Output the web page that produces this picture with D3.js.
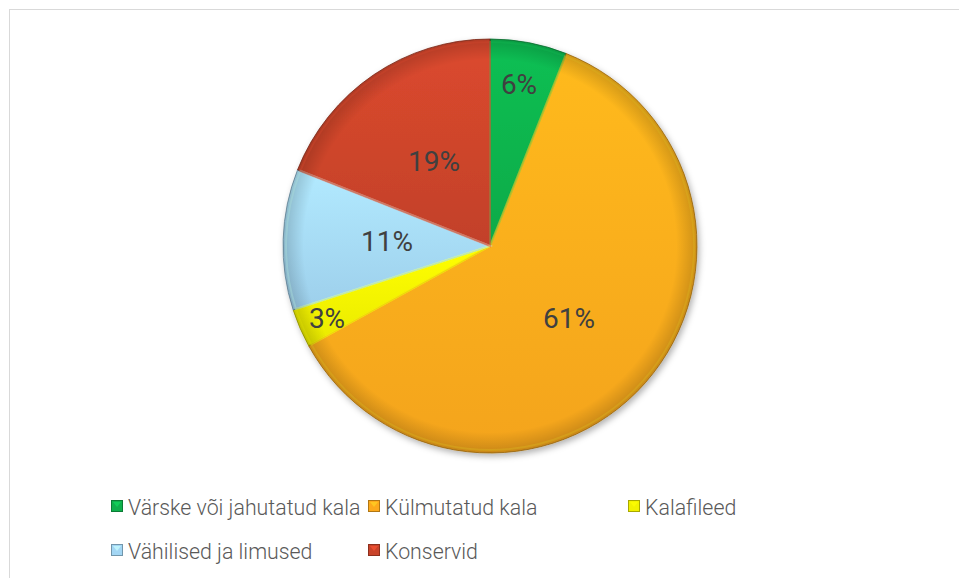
<!DOCTYPE html>
<html>
<head>
<meta charset="utf-8">
<script src="https://cdn.jsdelivr.net/npm/d3@7"></script>
<style>
  html, body { margin: 0; padding: 0; background: #fff; }
  svg { display: block; }
</style>
</head>
<body>
<svg id="chart" width="959" height="578"></svg>
<script>
const categories = ["Värske või jahutatud kala", "Külmutatud kala", "Kalafileed", "Vähilised ja limused", "Konservid"];
const values = [6, 61, 3, 11, 19];
const labels = ["6%", "61%", "3%", "11%", "19%"];
const colors = ["#0fb04c", "#fdaa1c", "#f2f200", "#a3d6f4", "#c9432a"];

const svg = d3.select("#chart");
const W = 959, H = 578;

svg.append("rect").attr("width", W).attr("height", H).attr("fill", "#fff");
// chart border (only top/left visible in frame)
svg.append("rect").attr("x", 9.5).attr("y", 9.5).attr("width", W + 20).attr("height", H + 20)
  .attr("fill", "none").attr("stroke", "#d9d9d9").attr("stroke-width", 1);

const defs = svg.append("defs");
const f = defs.append("filter").attr("id", "shadow").attr("x", "-10%").attr("y", "-10%").attr("width", "130%").attr("height", "130%");
f.append("feDropShadow").attr("dx", 2).attr("dy", 3).attr("stdDeviation", 3).attr("flood-color", "#000").attr("flood-opacity", 0.3);

// per-slice gradients
colors.forEach((c, i) => {
  const g = defs.append("linearGradient").attr("id", "g" + i).attr("x1", 0).attr("y1", 0).attr("x2", 0).attr("y2", 1);
  g.append("stop").attr("offset", "0%").attr("stop-color", d3.color(c).brighter(0.25));
  g.append("stop").attr("offset", "100%").attr("stop-color", d3.color(c).darker(0.1));
});
const rg = defs.append("radialGradient").attr("id", "edge").attr("cx", "50%").attr("cy", "50%").attr("r", "50%");
rg.append("stop").attr("offset", "90%").attr("stop-color", "#000").attr("stop-opacity", 0);
rg.append("stop").attr("offset", "100%").attr("stop-color", "#000").attr("stop-opacity", 0.18);

const cx = 490, cy = 246, R = 207;
const pie = d3.pie().sort(null).value(d => d)(values);
const arc = d3.arc().innerRadius(0).outerRadius(R);

const g = svg.append("g").attr("transform", `translate(${cx},${cy})`);
const slices = g.append("g").attr("filter", "url(#shadow)");
slices.selectAll("path").data(pie).join("path")
  .attr("d", arc)
  .attr("fill", (d, i) => `url(#g${i})`)
  .attr("stroke", (d, i) => d3.color(colors[i]).darker(1.2))
  .attr("stroke-width", 0.8)
  .attr("stroke-linejoin", "round");
// inner bevel highlight
const innerArc = d3.arc().innerRadius(0).outerRadius(R - 3);
g.append("g").selectAll("path").data(pie).join("path")
  .attr("d", innerArc)
  .attr("fill", "none")
  .attr("stroke", (d, i) => d3.color(colors[i]).brighter(0.5))
  .attr("stroke-opacity", 0.5)
  .attr("stroke-width", 2);
g.append("circle").attr("r", R).attr("fill", "url(#edge)");

// label positions
const labelPos = [[29, -162], [79, 72], [-163, 72], [-103, -5], [-56, -85]];
g.selectAll("text.lbl").data(pie).join("text")
  .attr("class", "lbl")
  .attr("x", (d, i) => labelPos[i][0])
  .attr("y", (d, i) => labelPos[i][1])
  .attr("text-anchor", "middle")
  .attr("dominant-baseline", "central")
  .attr("font-family", "Roboto, 'Open Sans', sans-serif")
  .attr("font-size", 28)
  .attr("fill", "#404040")
  .text((d, i) => labels[i]);

// legend
const legX = [111, 368, 628];
const legRows = [506, 550];
const leg = svg.append("g");
categories.forEach((c, i) => {
  const col = i % 3, row = Math.floor(i / 3);
  const x = legX[col], y = legRows[row];
  const it = leg.append("g").attr("transform", `translate(${x},${y})`);
  it.append("rect").attr("x", 0.5).attr("y", -5.5).attr("width", 11).attr("height", 11)
    .attr("fill", colors[i]).attr("stroke", d3.color(colors[i]).darker(1)).attr("stroke-width", 1);
  it.append("path").attr("d", "M2,-4 L10,-4 L6,1 Z").attr("fill", d3.color(colors[i]).brighter(0.6)).attr("opacity", 0.7);
  it.append("text")
    .attr("x", 17).attr("y", 1)
    .attr("dominant-baseline", "central")
    .attr("font-family", "Roboto, sans-serif")
    .attr("font-weight", 300)
    .attr("font-size", 22)
    .attr("fill", "#595959")
    .attr("transform", "scale(0.97,1)")
    .attr("transform-origin", "17 0")
    .text(c);
});
</script>
</body>
</html>
